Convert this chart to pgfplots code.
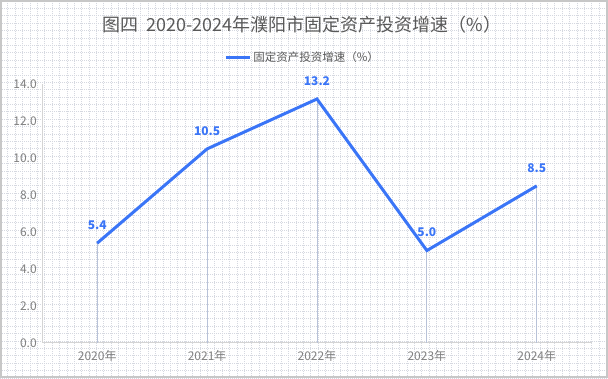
\documentclass[border=0pt]{standalone}
\usepackage{pgfplots}
\pgfplotsset{compat=1.18}
\usepackage{fontspec}
\setmainfont{Noto Sans CJK SC}
\definecolor{lineblue}{HTML}{3A75F7}
\definecolor{labblue}{HTML}{3A75F7}
\definecolor{tickgray}{HTML}{808080}
\definecolor{titlegray}{HTML}{595959}
\definecolor{axgray}{HTML}{D4D4D4}
\definecolor{dropgray}{HTML}{B8C2D8}
\definecolor{dotgray}{HTML}{D5D8E0}
\begin{document}
\begin{tikzpicture}[x=1pt,y=1pt]
\fill[white] (0,0) rectangle (608,378);
\draw[dotgray, line width=0.6pt, dash pattern=on 1pt off 1pt] (0,0) grid[step=7.4pt] (608,378);
\draw[black!22, line width=1.6pt] (0.8,0.8) rectangle (607.2,377.2);
\useasboundingbox (0,0) rectangle (608,378);
\node[text=titlegray, font=\fontsize{18}{20}\selectfont] at (302,354) {图四\ \ 2020-2024年濮阳市固定资产投资增速（\%）};
\begin{axis}[
  at={(97pt,35pt)}, anchor=origin,
  scale only axis, width=550pt, height=259pt,
  xmin=-0.5, xmax=4.5, ymin=0, ymax=14,
  xtick={0,1,2,3,4},
  xticklabels={2020年,2021年,2022年,2023年,2024年},
  ytick={0,2,4,6,8,10,12,14},
  yticklabel={\pgfmathprintnumber[fixed,fixed zerofill,precision=1]{\tick}},
  /pgf/number format/assume math mode=true,
  axis x line*=bottom, axis y line*=left,
  x axis line style={axgray, line width=1pt, -},
  y axis line style={axgray, line width=0.8pt, -},
  major tick length=0pt,
  ticklabel style={text=tickgray, font=\fontsize{12}{13}\selectfont},
  xticklabel style={yshift=-4pt},
  yticklabel style={xshift=-2pt},
  clip=false,
  legend style={at={(0.474,1.104)}, anchor=center, draw=none, fill=none,
    font=\fontsize{11.5}{12}\selectfont, text=titlegray,
    legend cell align=left},
  legend image code/.code={\draw[lineblue, line width=3pt] (0pt,0pt) -- (24pt,0pt);},
]
\addplot[ycomb, dropgray, line width=0.9pt, forget plot] coordinates {(0,5.4) (1,10.5) (2,13.2) (3,5.0) (4,8.5)};
\addplot[lineblue, line width=3pt, line join=miter,
  nodes near coords, point meta=explicit symbolic,
  every node near coord/.append style={anchor=center, yshift=18pt, text=labblue, font=\bfseries\fontsize{12}{13}\selectfont}]
  coordinates {(0,5.4)[5.4] (1,10.5)[10.5] (2,13.2)[13.2] (3,5.0)[5.0] (4,8.5)[8.5]};
\addlegendentry{固定资产投资增速（\%）}
\end{axis}
\end{tikzpicture}
\end{document}
